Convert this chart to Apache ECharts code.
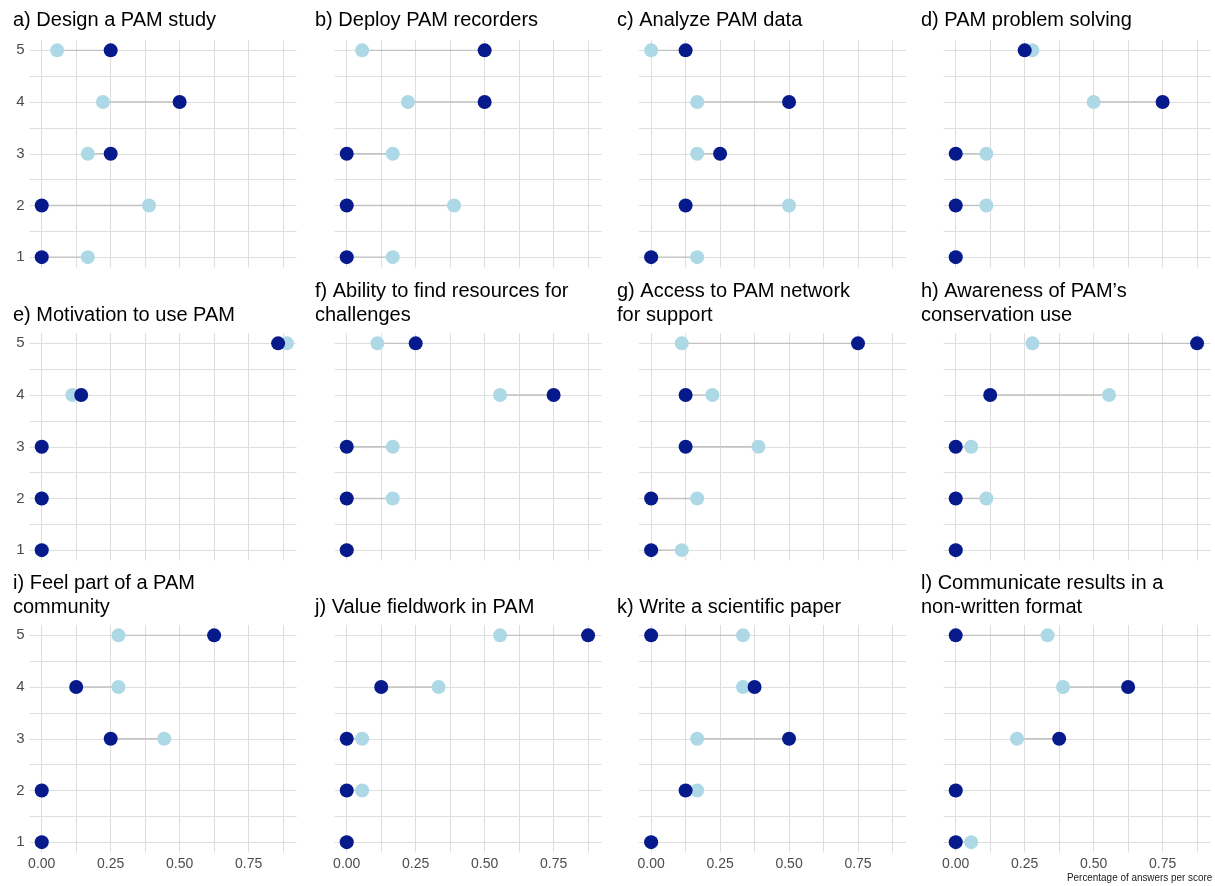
<!DOCTYPE html>
<html><head><meta charset="utf-8">
<script src="https://cdn.jsdelivr.net/npm/echarts@6/dist/echarts.min.js"></script>
<style>html,body{margin:0;padding:0;background:#fff}#c{width:1215px;height:886px}</style>
</head><body><div id="c"></div>
<script>
// ---- data ----
const scores = [1, 2, 3, 4, 5];
const xTickLabels = [0, 0.25, 0.5, 0.75];
const xGridValues = [0, 0.125, 0.25, 0.375, 0.5, 0.625, 0.75, 0.875];
const yGridValues = [1, 1.5, 2, 2.5, 3, 3.5, 4, 4.5, 5];
const panelTitles = [
  'a) Design a PAM study', 'b) Deploy PAM recorders', 'c) Analyze PAM data', 'd) PAM problem solving',
  'e) Motivation to use PAM', 'f) Ability to find resources for\nchallenges', 'g) Access to PAM network\nfor support', 'h) Awareness of PAM\u2019s\nconservation use',
  'i) Feel part of a PAM\ncommunity', 'j) Value fieldwork in PAM', 'k) Write a scientific paper', 'l) Communicate results in a\nnon-written format'
];
// share of answers per score (scores 1..5) - light blue group
const lightShare = [
  [0.167, 0.389, 0.167, 0.222, 0.056],
  [0.167, 0.389, 0.167, 0.222, 0.056],
  [0.167, 0.5, 0.167, 0.167, 0],
  [0, 0.111, 0.111, 0.5, 0.278],
  [0, 0, 0, 0.111, 0.889],
  [0, 0.167, 0.167, 0.556, 0.111],
  [0.111, 0.167, 0.389, 0.222, 0.111],
  [0, 0.111, 0.056, 0.556, 0.278],
  [0, 0, 0.444, 0.278, 0.278],
  [0, 0.056, 0.056, 0.333, 0.556],
  [0, 0.167, 0.167, 0.333, 0.333],
  [0.056, 0, 0.222, 0.389, 0.333]
];
// share of answers per score (scores 1..5) - dark blue group
const darkShare = [
  [0, 0, 0.25, 0.5, 0.25],
  [0, 0, 0, 0.5, 0.5],
  [0, 0.125, 0.25, 0.5, 0.125],
  [0, 0, 0, 0.75, 0.25],
  [0, 0, 0, 0.143, 0.857],
  [0, 0, 0, 0.75, 0.25],
  [0, 0, 0.125, 0.125, 0.75],
  [0, 0, 0, 0.125, 0.875],
  [0, 0, 0.25, 0.125, 0.625],
  [0, 0, 0, 0.125, 0.875],
  [0, 0.125, 0.5, 0.375, 0],
  [0, 0, 0.375, 0.625, 0]
];
const footnote = 'Percentage of answers per score';

// ---- layout ----
const colLeft = [29.6, 334.6, 639, 943.6];
const titleLeft = [13, 315, 617, 921];
const rowTop = [40, 333, 625];
const titleBaseline = [27, 322, 614];
const panelW = 267, panelH = 227.5;
const LIGHT = '#add8e6', DARK = '#071a8c', GRID = '#dedede', SEG = '#c2c2c2';
const labelFont = '"Liberation Sans", Arial, sans-serif';
const titleFont = '"Liberation Sans", Arial, sans-serif';

const grids = [], xAxes = [], yAxes = [], series = [], titles = [];
for (let i = 0; i < 12; i++) {
  const r = Math.floor(i / 4), c = i % 4;
  grids.push({left: colLeft[c], top: rowTop[r], width: panelW, height: panelH, containLabel: false});
  xAxes.push({
    type: 'value', gridIndex: i, min: -0.044, max: 0.924,
    axisLine: {show: false},
    axisTick: {show: false, customValues: xGridValues},
    splitLine: {show: true, lineStyle: {color: GRID, width: 1}},
    axisLabel: {show: r === 2, customValues: xTickLabels, margin: 5, color: '#4d4d4d', fontSize: 14,
      fontFamily: labelFont, formatter: v => Number(v).toFixed(2)}
  });
  yAxes.push({
    type: 'value', gridIndex: i, min: 0.8, max: 5.2,
    axisLine: {show: false},
    axisTick: {show: false, customValues: yGridValues},
    splitLine: {show: true, lineStyle: {color: GRID, width: 1}},
    axisLabel: {show: c === 0, customValues: scores, margin: 5, color: '#4d4d4d', fontSize: 15,
      fontFamily: labelFont, formatter: v => String(Math.round(v))}
  });
  const nLines = panelTitles[i].split('\n').length;
  titles.push({
    text: panelTitles[i], left: titleLeft[c],
    top: titleBaseline[r] - 7 - 12 - (nLines - 1) * 24, padding: 0,
    textStyle: {fontSize: 20, fontWeight: 'normal', color: '#000', fontFamily: titleFont, lineHeight: 24}
  });
  const segData = scores.map((s, k) => [lightShare[i][k], darkShare[i][k], s]);
  series.push({
    type: 'custom', xAxisIndex: i, yAxisIndex: i, z: 1, silent: true,
    encode: {x: [0, 1], y: 2},
    data: segData,
    renderItem: (params, api) => {
      const p1 = api.coord([api.value(0), api.value(2)]);
      const p2 = api.coord([api.value(1), api.value(2)]);
      return {type: 'line', shape: {x1: p1[0], y1: p1[1], x2: p2[0], y2: p2[1]},
        style: {stroke: SEG, lineWidth: 1.4}};
    }
  });
  series.push({
    type: 'scatter', xAxisIndex: i, yAxisIndex: i, z: 2, symbolSize: 14, silent: true,
    itemStyle: {color: LIGHT, opacity: 1},
    data: scores.map((s, k) => [lightShare[i][k], s])
  });
  series.push({
    type: 'scatter', xAxisIndex: i, yAxisIndex: i, z: 3, symbolSize: 14, silent: true,
    itemStyle: {color: DARK, opacity: 1},
    data: scores.map((s, k) => [darkShare[i][k], s])
  });
}

const chart = echarts.init(document.getElementById('c'), null, {renderer: 'canvas'});
chart.setOption({
  animation: false,
  backgroundColor: '#fff',
  title: titles,
  grid: grids, xAxis: xAxes, yAxis: yAxes, series: series,
  graphic: [{
    type: 'text', x: 1067, y: 872, scaleX: 0.9,
    style: {text: footnote, fontSize: 11, fill: '#1a1a1a', fontFamily: labelFont}
  }]
});
</script></body></html>
